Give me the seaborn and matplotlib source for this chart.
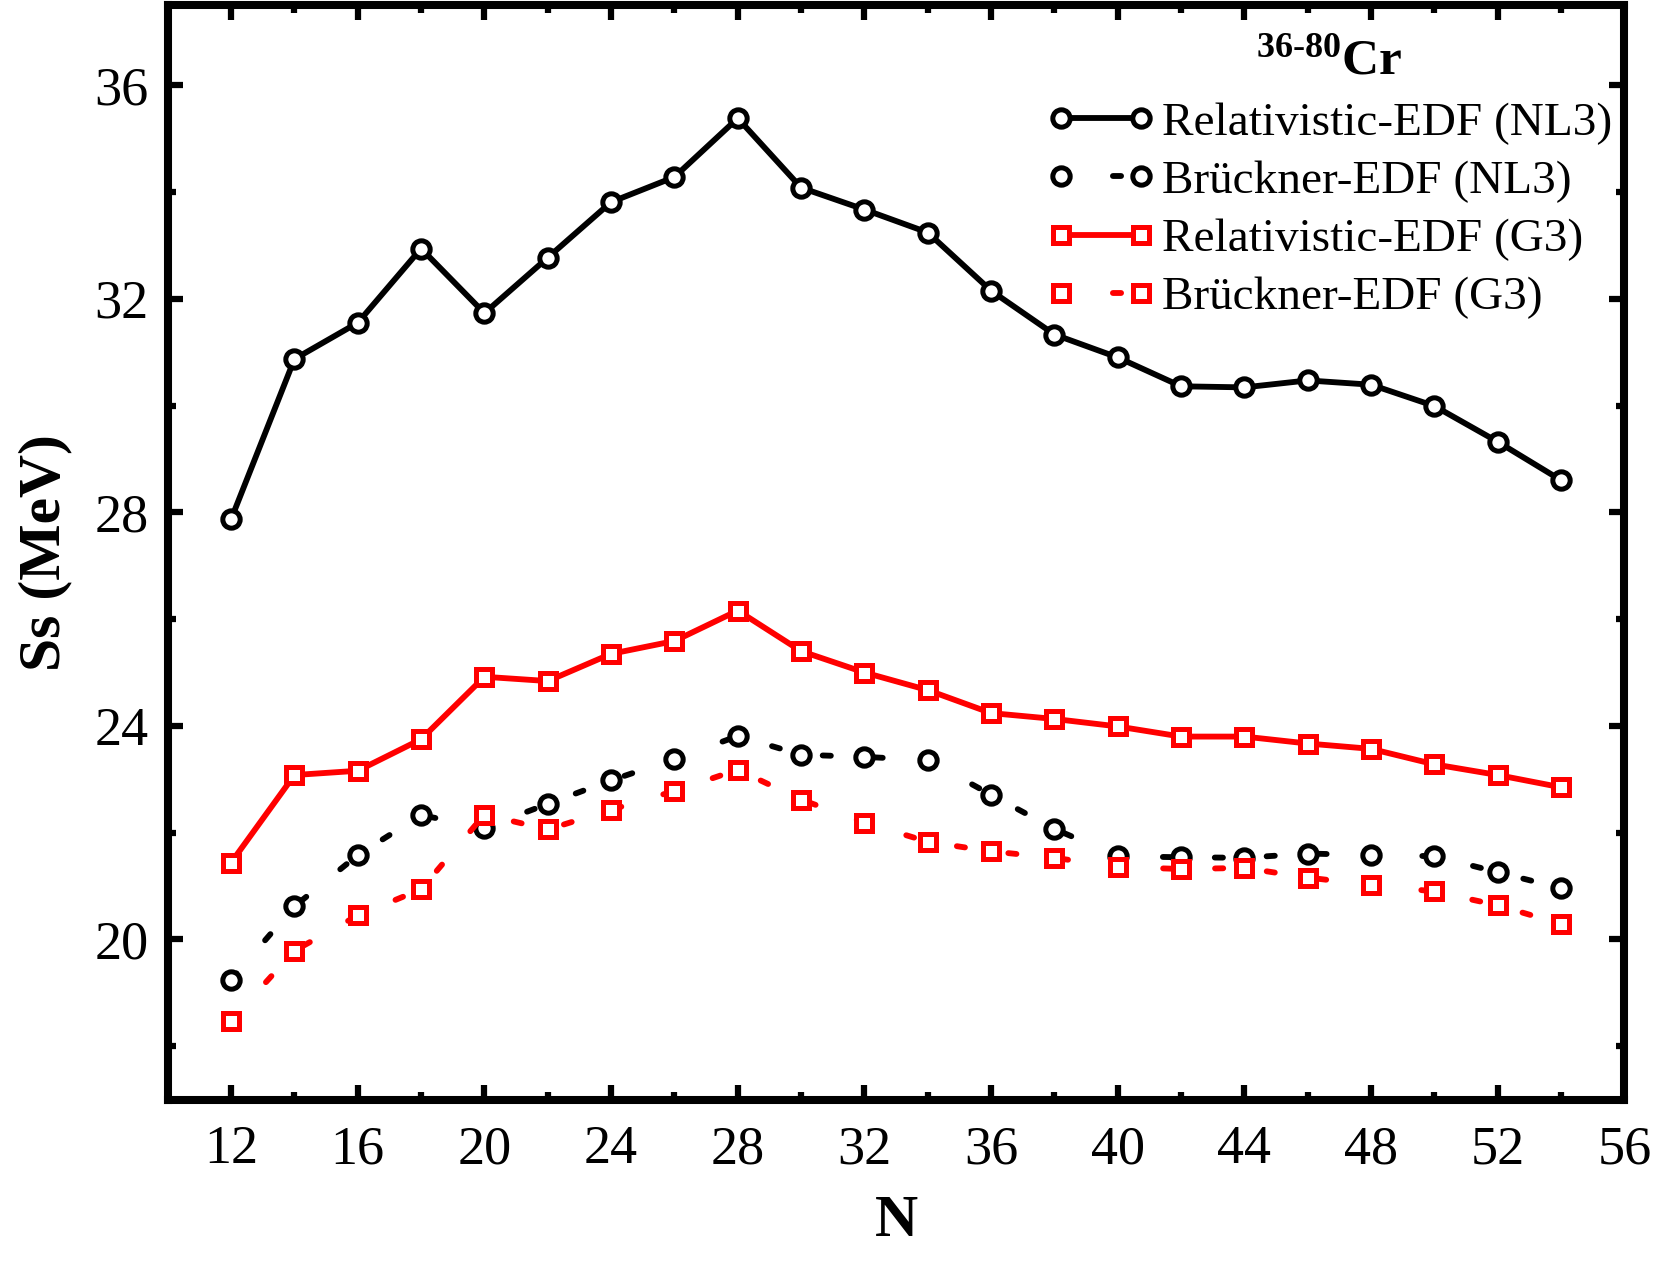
import matplotlib
matplotlib.use("Agg")
import matplotlib.pyplot as plt
from matplotlib.ticker import MultipleLocator
import seaborn as sns

# neutron numbers for 36Cr ... 80Cr
N = [12, 14, 16, 18, 20, 22, 24, 26, 28, 30, 32, 34, 36, 38, 40, 42, 44, 46, 48, 50, 52, 54]

# symmetry energy Ss (MeV)
rel_nl3 = [27.87, 30.87, 31.55, 32.94, 31.73, 32.77, 33.81, 34.28, 35.38, 34.08, 33.67,
           33.24, 32.15, 31.33, 30.90, 30.36, 30.34, 30.47, 30.39, 29.99, 29.32, 28.60]
bru_nl3 = [19.25, 20.62, 21.58, 22.33, 22.09, 22.54, 22.98, 23.38, 23.81, 23.46, 23.42,
           23.36, 22.71, 22.07, 21.56, 21.54, 21.53, 21.61, 21.58, 21.56, 21.26, 20.96]
rel_g3 = [21.44, 23.08, 23.16, 23.75, 24.92, 24.84, 25.35, 25.59, 26.16, 25.40, 25.00,
          24.67, 24.24, 24.13, 23.99, 23.80, 23.80, 23.67, 23.57, 23.28, 23.08, 22.85]
bru_g3 = [18.48, 19.79, 20.45, 20.94, 22.34, 22.06, 22.43, 22.78, 23.18, 22.62, 22.19,
          21.83, 21.65, 21.53, 21.36, 21.32, 21.34, 21.16, 21.02, 20.90, 20.64, 20.29]

labels = ["Relativistic-EDF (NL3)", "Brückner-EDF (NL3)",
          "Relativistic-EDF (G3)", "Brückner-EDF (G3)"]

sns.set_style("ticks")
plt.rcParams["font.family"] = ["Liberation Serif", "DejaVu Serif"]
plt.rcParams["mathtext.fontset"] = "custom"
plt.rcParams["mathtext.rm"] = "Liberation Serif"
plt.rcParams["mathtext.bf"] = "Liberation Serif:bold"
plt.rcParams.update({"text.color": "black", "axes.labelcolor": "black",
                     "xtick.color": "black", "ytick.color": "black",
                     "axes.edgecolor": "black"})

fig = plt.figure(figsize=(16.61, 12.64), dpi=100)
ax = fig.add_axes([0.101, 0.13, 0.877, 0.866])

dotted = (0, (1.4, 7.5))
series = [
    (rel_nl3, "black", "o", "-"),
    (bru_nl3, "black", "o", dotted),
    (rel_g3, "red", "s", "-"),
    (bru_g3, "red", "s", dotted),
]
for (vals, col, mk, ls), lab in zip(series, labels):
    sns.lineplot(x=N, y=vals, ax=ax, color=col, marker=mk, linestyle=ls,
                 linewidth=4.2, markersize=12.5 if mk == "o" else 11.5,
                 markerfacecolor="white", markeredgecolor=col, markeredgewidth=3.6,
                 dash_capstyle="round", label=lab)

ax.set_xlim(10, 56)
ax.set_ylim(17, 37.5)
ax.xaxis.set_major_locator(MultipleLocator(4))
ax.xaxis.set_minor_locator(MultipleLocator(2))
ax.yaxis.set_major_locator(MultipleLocator(4))
ax.yaxis.set_minor_locator(MultipleLocator(2))

ax.tick_params(which="both", direction="in", top=True, right=True, width=4.5)
ax.tick_params(which="major", length=11, labelsize=39)
ax.tick_params(which="minor", length=6)
ax.tick_params(axis="x", which="major", pad=18)
ax.tick_params(axis="y", which="major", pad=14)
for s in ax.spines.values():
    s.set_linewidth(5.8)

ax.set_xlabel("N", fontsize=43, fontweight="bold", labelpad=14)
ax.set_ylabel("Ss (MeV)", fontsize=43, fontweight="bold", labelpad=16)

leg = ax.legend(loc="upper right", frameon=False, fontsize=34, numpoints=2,
                handlelength=2.3, handletextpad=0.15, labelspacing=0.32,
                borderaxespad=0.1, bbox_to_anchor=(1.008, 0.991),
                title=r"$\mathbf{^{36\text{-}80}Cr}$", title_fontsize=37)
leg._legend_box.sep = 12

fig.savefig("out.png", dpi=100)
